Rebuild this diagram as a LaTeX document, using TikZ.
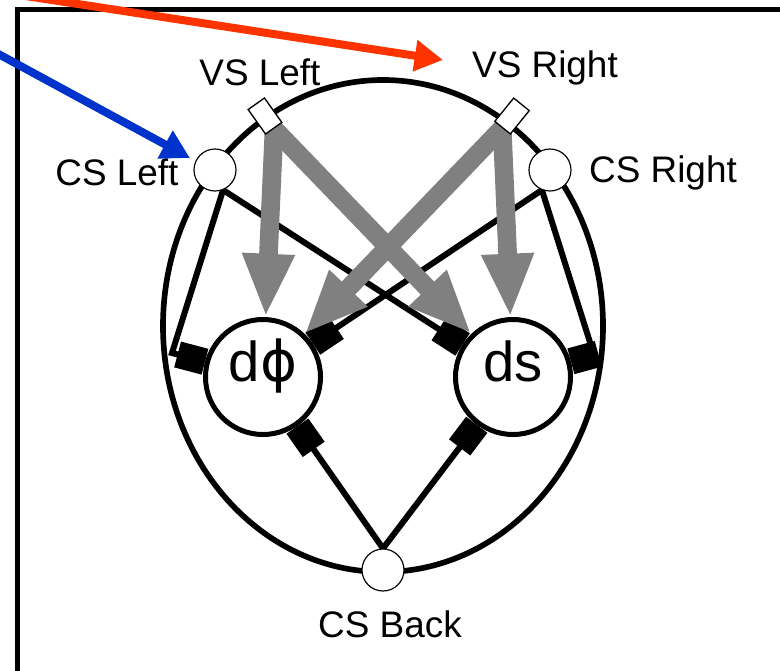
\documentclass[tikz,border=0pt]{standalone}
\usepackage{fontspec}
\setmainfont{Liberation Sans}
\newfontfamily\phifont{DejaVu Sans}
\usetikzlibrary{arrows.meta}
\pgfdeclarelayer{bg}
\pgfdeclarelayer{mid}
\pgfdeclarelayer{front}
\pgfsetlayers{bg,mid,main,front}
\definecolor{vsgray}{RGB}{128,128,128}
\definecolor{pointred}{RGB}{255,51,0}
\definecolor{pointblue}{RGB}{0,51,204}

\begin{document}
\begin{tikzpicture}[x=0.3mm,y=-0.3mm,
  sensor/.style={circle,draw,fill=white,line width=0.35mm,minimum size=12.6mm,inner sep=0pt},
  vsbox/.style={rectangle,draw,fill=white,line width=0.4mm,minimum width=6mm,minimum height=9mm,inner sep=0pt},
  unit/.style={circle,draw,fill=white,line width=1.5mm,minimum size=34.5mm,inner sep=0pt,
    font=\fontsize{48}{52}\selectfont,text height=0.72em,text depth=0pt},
  lbl/.style={anchor=base,inner sep=0pt,font=\fontsize{31.5}{36}\selectfont},
  inhib/.style={line width=1.8mm,-{Square[length=8.5mm,width=8mm]}},
  excite/.style={draw=vsgray,line width=5.6mm,-{Triangle[length=19mm,width=14.5mm]}},
  pointer/.style={line width=2.4mm,-{Triangle[length=8.5mm,width=9mm]}}]

\useasboundingbox (0,0) rectangle (780,670);

% frame
\draw[line width=1.5mm] (17,690) -- (17,9) -- (800,9);

% outer ellipse
\begin{pgfonlayer}{bg}
  \draw[line width=1.7mm] (383,326) ellipse [x radius=220, y radius=246];
\end{pgfonlayer}

% sensors
\node[sensor] (CSL) at (215,170) {};
\node[sensor] (CSR) at (550,170) {};
\node[sensor] (CSB) at (383,570) {};
\node[vsbox,rotate=35.4] (VSL) at (265,116) {};
\node[vsbox,rotate=-39] (VSR) at (512,116) {};

% units
\node[unit] (dphi) at (263,377) {d{\phifont ϕ}};
\node[unit] (ds) at (513,377) {ds};

% labels
\node[lbl] (tCSL) at (117,185) {CS Left};
\node[lbl] (tVSL) at (260,85) {VS Left};
\node[lbl] (tVSR) at (545,77) {VS Right};
\node[lbl] (tCSR) at (663,182) {CS Right};
\node[lbl] (tCSB) at (390,637) {CS Back};

% corner points of the side connections
\coordinate (cl) at (172,353);
\coordinate (cr) at (594,355);

\begin{pgfonlayer}{mid}
  % inhibitory connections
  \draw[inhib] (CSL.-68) -- (cl) -- (dphi);
  \draw[inhib] (CSL.-68) -- (ds);
  \draw[inhib] (CSR.-112) -- (dphi);
  \draw[inhib] (CSR.-112) -- (cr) -- (ds);
  \draw[inhib] (CSB.north) -- (dphi);
  \draw[inhib] (CSB.north) -- (ds);
  % excitatory connections
  \draw[excite] (VSL.south) -- (dphi);
  \draw[excite] (VSL.south) -- (ds);
  \draw[excite] (VSR.south) -- (dphi);
  \draw[excite] (VSR.south) -- (ds);
\end{pgfonlayer}

% pointers
\coordinate (redstart) at (-20,-11);
\coordinate (redtip) at (443,60);
\coordinate (bluestart) at (-20,44);
\coordinate (bluetip) at (190,158);
\begin{pgfonlayer}{front}
  \draw[pointer,draw=pointred,fill=pointred] (redstart) -- (redtip);
  \draw[pointer,draw=pointblue,fill=pointblue] (bluestart) -- (bluetip);
\end{pgfonlayer}
\end{tikzpicture}
\end{document}
